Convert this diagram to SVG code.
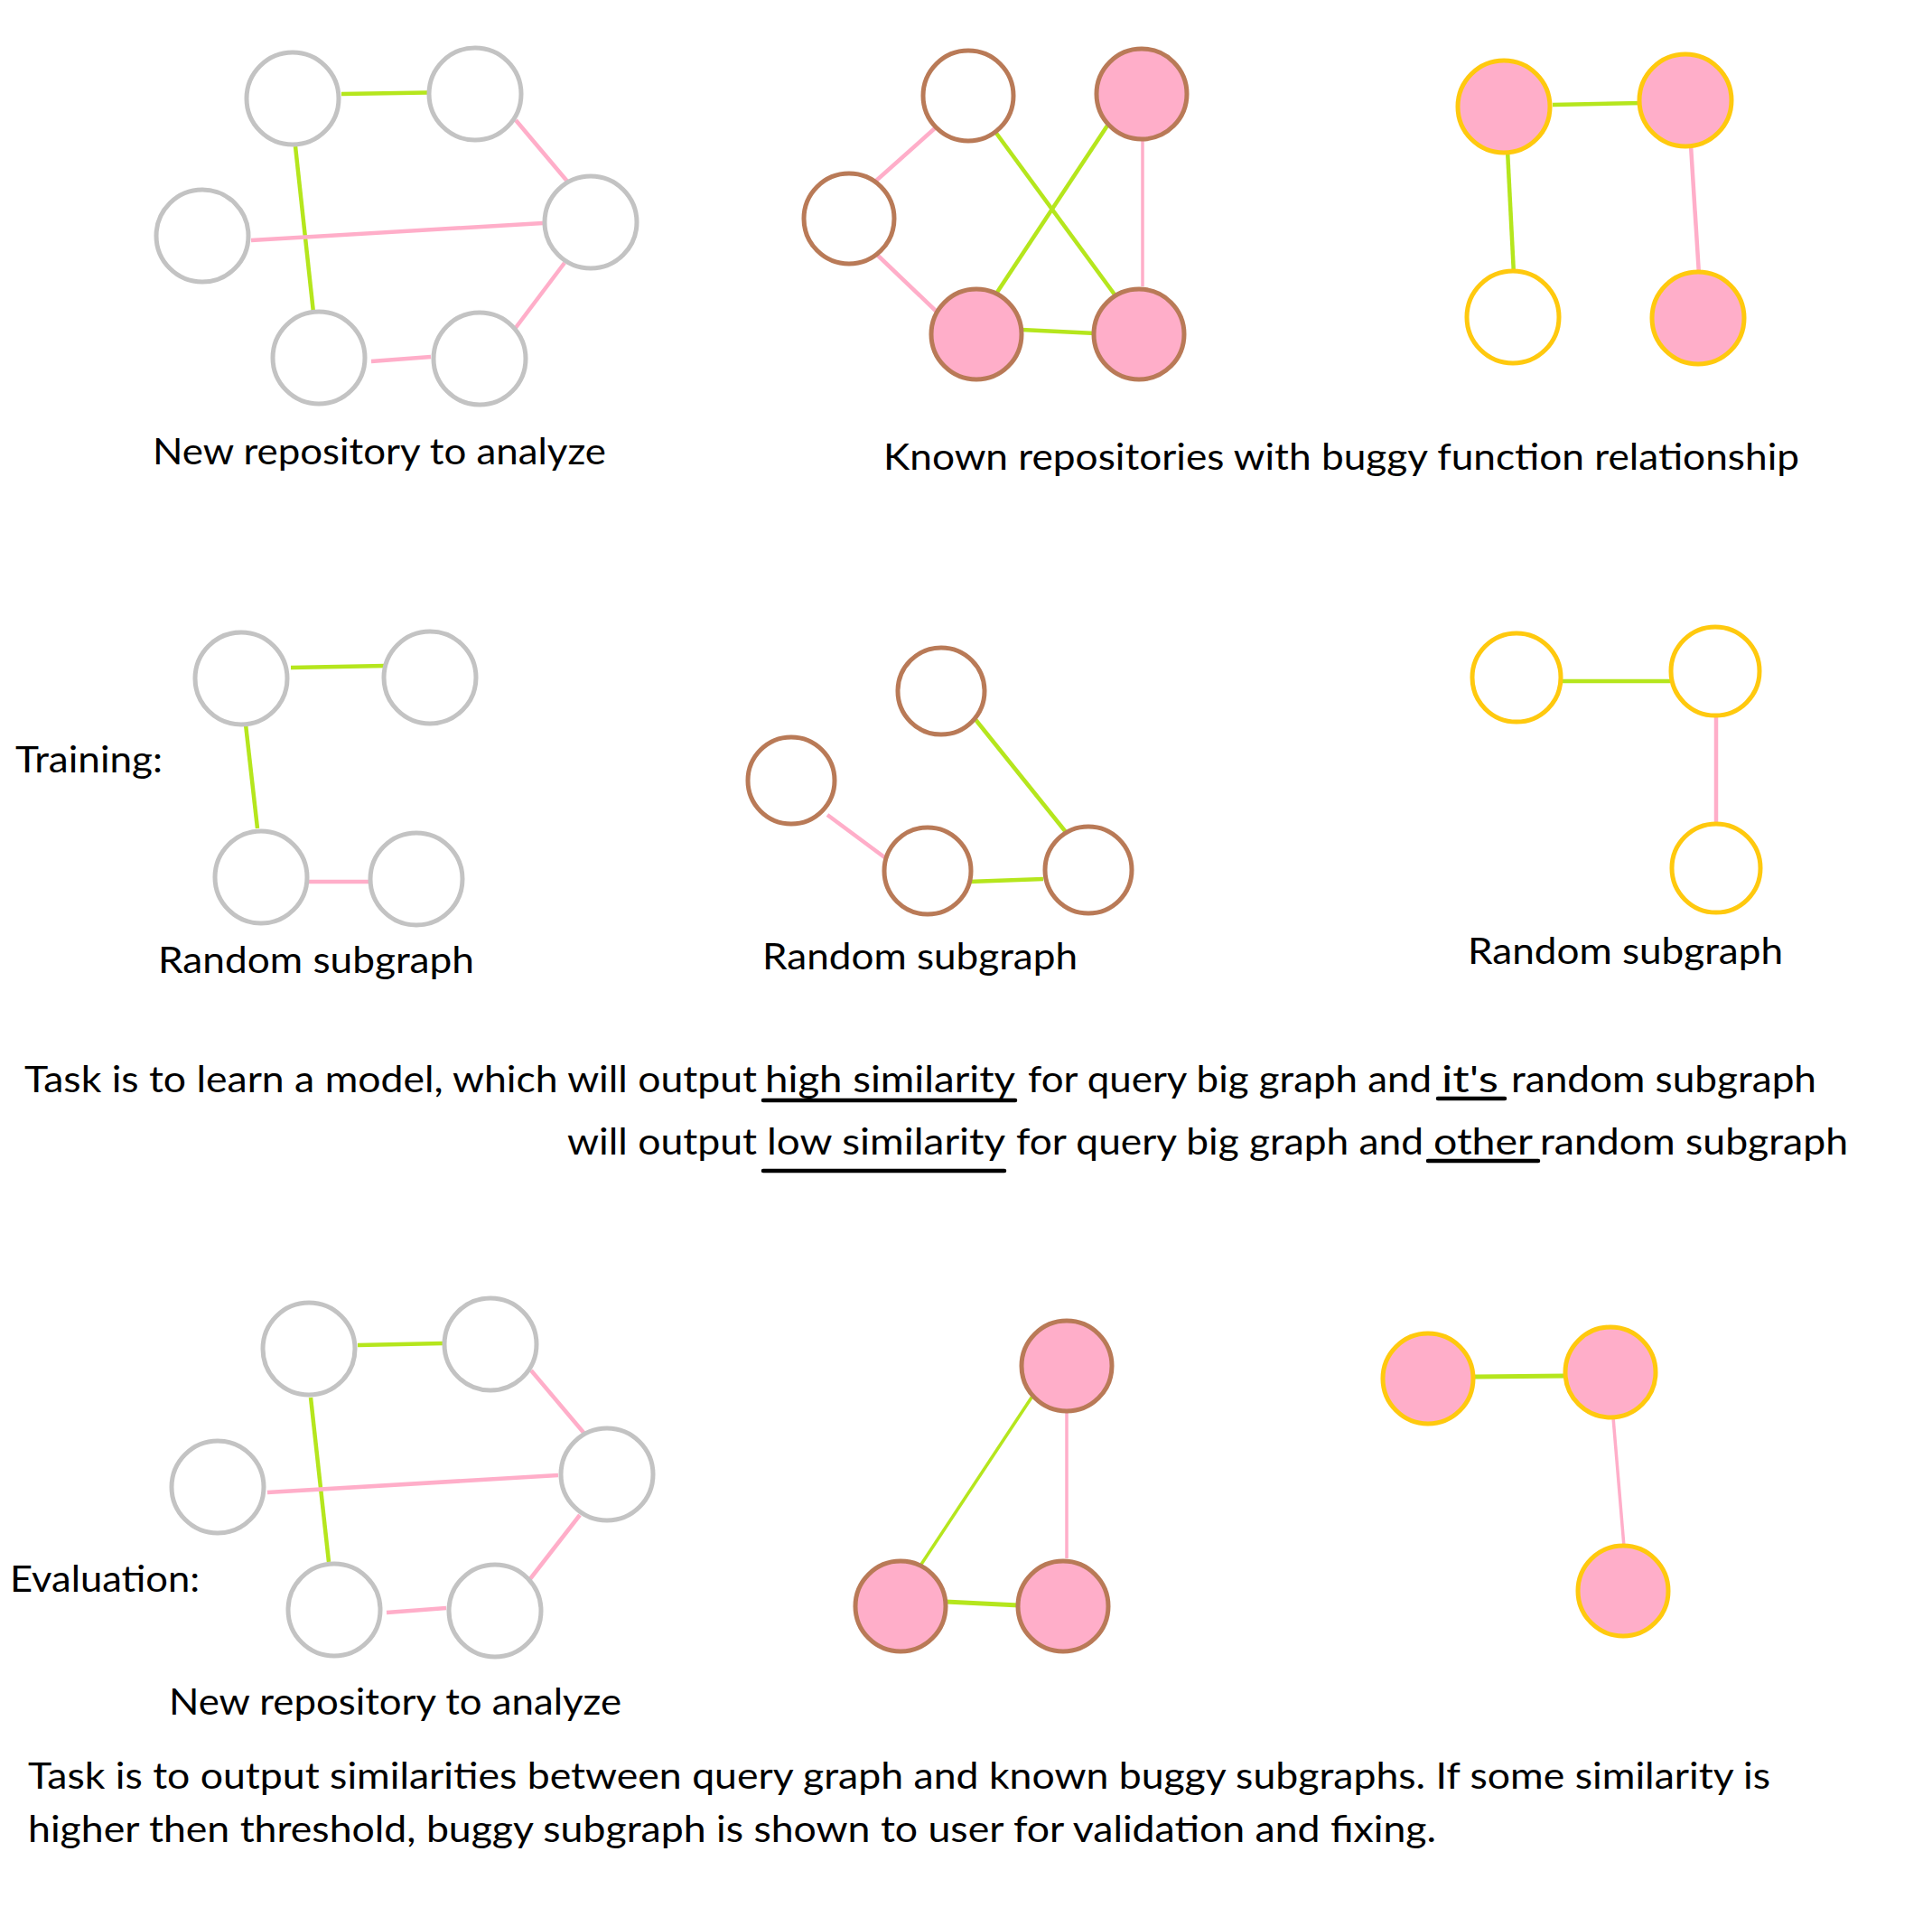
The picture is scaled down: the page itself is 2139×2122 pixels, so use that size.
<svg xmlns="http://www.w3.org/2000/svg" width="2139" height="2122" viewBox="0 0 2139 2122">
<style>
.t{font-family:Lato,"Open Sans","Liberation Sans",sans-serif;font-size:40px;fill:#000}
.gray{fill:#fff;stroke:#c3c3c3;stroke-width:5}
.brown{fill:#fff;stroke:#b97a57;stroke-width:5}
.brownp{fill:#ffaec9;stroke:#b97a57;stroke-width:5}
.yel{fill:#fff;stroke:#ffc90e;stroke-width:5}
.yelp{fill:#ffaec9;stroke:#ffc90e;stroke-width:5}
.g{stroke:#b5e61d;stroke-width:4.5;fill:none}
.p{stroke:#ffaec9;stroke-width:4.5;fill:none}
.u{stroke:#000;stroke-width:4.5;stroke-linecap:round;fill:none}
</style>
<rect width="2139" height="2122" fill="#fff"/>
<g id="connectors">
<line class="g" x1="378" y1="104" x2="473" y2="102.5"/>
<line class="g" x1="327" y1="162" x2="347" y2="346"/>
<line class="p" x1="571" y1="133" x2="630" y2="203"/>
<line class="p" x1="278" y1="266" x2="601" y2="247"/>
<line class="p" x1="625" y1="291" x2="570" y2="364"/>
<line class="p" x1="411" y1="400" x2="477" y2="395"/>
<line class="p" x1="1035" y1="142" x2="970" y2="200"/>
<line class="p" x1="969" y1="280" x2="1038" y2="346"/>
<line class="g" x1="1102" y1="146" x2="1234" y2="326"/>
<line class="g" x1="1228" y1="136" x2="1103" y2="325"/>
<line class="p" x1="1265" y1="154" x2="1265" y2="317" style="stroke-width:3.5"/>
<line class="g" x1="1131" y1="365" x2="1213" y2="369"/>
<line class="g" x1="1719" y1="116" x2="1818" y2="114"/>
<line class="g" x1="1669" y1="166" x2="1676" y2="304"/>
<line class="p" x1="1872" y1="161" x2="1881" y2="304"/>
<line class="g" x1="322" y1="739" x2="426" y2="737"/>
<line class="g" x1="272" y1="802" x2="285" y2="917"/>
<line class="p" x1="339" y1="976" x2="411" y2="976"/>
<line class="g" x1="1078" y1="794" x2="1180" y2="921"/>
<line class="p" x1="916" y1="902" x2="982" y2="951"/>
<line class="g" x1="1072" y1="976" x2="1155" y2="973"/>
<line class="g" x1="1730" y1="754" x2="1849" y2="754"/>
<line class="p" x1="1900" y1="791" x2="1900" y2="912"/>
<line class="g" x1="396" y1="1489" x2="490" y2="1487"/>
<line class="g" x1="344" y1="1547" x2="364" y2="1729"/>
<line class="p" x1="588" y1="1517" x2="648" y2="1588"/>
<line class="p" x1="296" y1="1652" x2="618" y2="1633"/>
<line class="p" x1="642" y1="1677" x2="586" y2="1749"/>
<line class="p" x1="428" y1="1785" x2="494" y2="1780"/>
<line class="g" x1="1144" y1="1544" x2="1019" y2="1733" style="stroke-width:3.5"/>
<line class="p" x1="1181" y1="1560" x2="1181" y2="1725" style="stroke-width:3.5"/>
<line class="g" x1="1047" y1="1773" x2="1128" y2="1777" style="stroke-width:5"/>
<line class="g" x1="1633" y1="1524" x2="1734" y2="1523" style="stroke-width:5"/>
<line class="p" x1="1786" y1="1569" x2="1798" y2="1712" style="stroke-width:3.5"/>
</g>
<g id="q-a"><circle class="gray" cx="324" cy="109" r="51"/></g>
<g id="q-b"><circle class="gray" cx="526" cy="104" r="51"/></g>
<g id="q-c"><circle class="gray" cx="224" cy="261" r="51"/></g>
<g id="q-d"><circle class="gray" cx="654" cy="246" r="51"/></g>
<g id="q-e"><circle class="gray" cx="353" cy="396" r="51"/></g>
<g id="q-f"><circle class="gray" cx="531" cy="397" r="51"/></g>
<g id="k1-a"><circle class="brown" cx="1072" cy="106" r="50"/></g>
<g id="k1-b"><circle class="brownp" cx="1264" cy="104" r="50"/></g>
<g id="k1-c"><circle class="brown" cx="940" cy="242" r="50"/></g>
<g id="k1-d"><circle class="brownp" cx="1081" cy="370" r="50"/></g>
<g id="k1-e"><circle class="brownp" cx="1261" cy="370" r="50"/></g>
<g id="k2-a"><circle class="yelp" cx="1665" cy="118" r="51"/></g>
<g id="k2-b"><circle class="yelp" cx="1866" cy="111" r="51"/></g>
<g id="k2-c"><circle class="yel" cx="1675" cy="351" r="51"/></g>
<g id="k2-d"><circle class="yelp" cx="1880" cy="352" r="51"/></g>
<g id="t1-a"><circle class="gray" cx="267" cy="751" r="51"/></g>
<g id="t1-b"><circle class="gray" cx="476" cy="750" r="51"/></g>
<g id="t1-c"><circle class="gray" cx="289" cy="971" r="51"/></g>
<g id="t1-d"><circle class="gray" cx="461" cy="973" r="51"/></g>
<g id="t2-a"><circle class="brown" cx="1042" cy="765" r="48"/></g>
<g id="t2-b"><circle class="brown" cx="876" cy="864" r="48"/></g>
<g id="t2-c"><circle class="brown" cx="1027" cy="964" r="48"/></g>
<g id="t2-d"><circle class="brown" cx="1205" cy="963" r="48"/></g>
<g id="t3-a"><circle class="yel" cx="1679" cy="750" r="49"/></g>
<g id="t3-b"><circle class="yel" cx="1899" cy="743" r="49"/></g>
<g id="t3-c"><circle class="yel" cx="1900" cy="961" r="49"/></g>
<g id="e1-a"><circle class="gray" cx="342" cy="1493" r="51"/></g>
<g id="e1-b"><circle class="gray" cx="543" cy="1488" r="51"/></g>
<g id="e1-c"><circle class="gray" cx="241" cy="1646" r="51"/></g>
<g id="e1-d"><circle class="gray" cx="672" cy="1632" r="51"/></g>
<g id="e1-e"><circle class="gray" cx="370" cy="1782" r="51"/></g>
<g id="e1-f"><circle class="gray" cx="548" cy="1783" r="51"/></g>
<g id="e2-a"><circle class="brownp" cx="1181" cy="1512" r="50"/></g>
<g id="e2-b"><circle class="brownp" cx="997" cy="1778" r="50"/></g>
<g id="e2-c"><circle class="brownp" cx="1177" cy="1778" r="50"/></g>
<g id="e3-a"><circle class="yelp" cx="1581" cy="1526" r="50"/></g>
<g id="e3-b"><circle class="yelp" cx="1783" cy="1519" r="50"/></g>
<g id="e3-c"><circle class="yelp" cx="1797" cy="1761" r="50"/></g>
<g id="labels">
<text class="t" x="169" y="514" textLength="502" lengthAdjust="spacingAndGlyphs">New repository to analyze</text>
<text class="t" x="978" y="520" textLength="1014" lengthAdjust="spacingAndGlyphs">Known repositories with buggy function relationship</text>
<text class="t" x="17" y="855" textLength="163" lengthAdjust="spacingAndGlyphs">Training:</text>
<text class="t" x="175" y="1077" textLength="350" lengthAdjust="spacingAndGlyphs">Random subgraph</text>
<text class="t" x="844" y="1073" textLength="349" lengthAdjust="spacingAndGlyphs">Random subgraph</text>
<text class="t" x="1625" y="1067" textLength="349" lengthAdjust="spacingAndGlyphs">Random subgraph</text>
<text class="t" y="1209"><tspan x="27" textLength="811" lengthAdjust="spacingAndGlyphs">Task is to learn a model, which will output</tspan> <tspan x="847" textLength="276" lengthAdjust="spacingAndGlyphs">high similarity</tspan> <tspan x="1138" textLength="447" lengthAdjust="spacingAndGlyphs">for query big graph and</tspan> <tspan x="1596" textLength="63" lengthAdjust="spacingAndGlyphs">it's</tspan> <tspan x="1673" textLength="338" lengthAdjust="spacingAndGlyphs">random subgraph</tspan></text>
<text class="t" y="1278"><tspan x="628" textLength="210" lengthAdjust="spacingAndGlyphs">will output</tspan> <tspan x="849" textLength="263" lengthAdjust="spacingAndGlyphs">low similarity</tspan> <tspan x="1125" textLength="451" lengthAdjust="spacingAndGlyphs">for query big graph and</tspan> <tspan x="1587" textLength="109" lengthAdjust="spacingAndGlyphs">other</tspan> <tspan x="1705" textLength="341" lengthAdjust="spacingAndGlyphs">random subgraph</tspan></text>
<text class="t" x="11" y="1762" textLength="210" lengthAdjust="spacingAndGlyphs">Evaluation:</text>
<text class="t" x="187" y="1898" textLength="501" lengthAdjust="spacingAndGlyphs">New repository to analyze</text>
<text class="t" x="31" y="1980" textLength="1929" lengthAdjust="spacingAndGlyphs">Task is to output similarities between query graph and known buggy subgraphs. If some similarity is</text>
<text class="t" x="31" y="2039" textLength="1559" lengthAdjust="spacingAndGlyphs">higher then threshold, buggy subgraph is shown to user for validation and fixing.</text>
</g>
<g id="underlines">
<line class="u" x1="845" y1="1218" x2="1124" y2="1218"/>
<line class="u" x1="1592" y1="1216" x2="1666" y2="1216"/>
<line class="u" x1="845" y1="1296" x2="1112" y2="1296"/>
<line class="u" x1="1581" y1="1285" x2="1703" y2="1285"/>
</g>
</svg>
